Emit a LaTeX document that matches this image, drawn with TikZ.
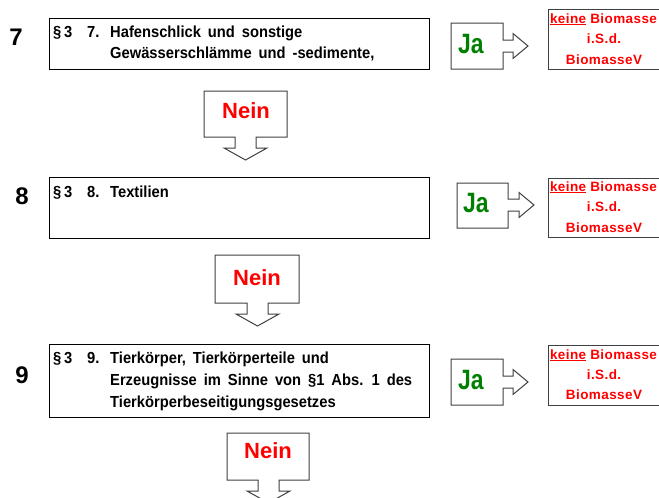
\documentclass[tikz,border=0pt]{standalone}
\usepackage{fontspec}
\setmainfont{Liberation Sans}
\newfontfamily\boxfont{Liberation Sans}[FakeStretch=0.92,WordSpace=1.7]
\newfontfamily\resfont{Liberation Sans}[LetterSpace=3]
\definecolor{jagreen}{RGB}{0,128,0}
\definecolor{nred}{RGB}{255,0,0}
\definecolor{callgray}{RGB}{64,64,64}
\tikzset{
  mainbox/.style={draw=black, line width=1.4pt, fill=white},
  callout/.style={draw=callgray, line width=1pt, fill=white},
  resbox/.style={draw=callgray, line width=1pt, fill=white},
  num/.style={font=\fontsize{24}{24}\selectfont\bfseries, inner sep=0pt, anchor=base},
  btxt/.style={font=\boxfont\fontsize{16}{21}\selectfont\bfseries, inner sep=0pt, anchor=base west},
  jatxt/.style={font=\fontsize{28}{28}\selectfont\bfseries, text=jagreen, inner sep=0pt, anchor=base west, xscale=0.82},
  neintxt/.style={font=\fontsize{22}{22}\selectfont\bfseries, text=nred, inner sep=0pt, anchor=base},
  restxt/.style={font=\resfont\fontsize{13.5}{13.5}\selectfont\bfseries, text=nred, inner sep=0pt, anchor=base},
}
% Ja callout: #1 name, (#2,#3) top-left, (#4,#5) bottom-right, #6 arrow centre y, #7 tip x
\newcommand\jacall[7]{%
  \path[callout] (#2,#3) -- (#4,#3) -- (#4,#6-6) -- (#7-15,#6-6) -- (#7-15,#6-12.5)
    -- (#7,#6) -- (#7-15,#6+12.5) -- (#7-15,#6+6) -- (#4,#6+6) -- (#4,#5) -- (#2,#5) -- cycle;
  \coordinate (#1) at (#7,#6);}
% Nein callout: #1 name, (#2,#3) top-left, (#4,#5) bottom-right, #6 arrow centre x
\newcommand\neincall[6]{%
  \path[callout] (#2,#3) -- (#4,#3) -- (#4,#5) -- (#6+10.5,#5) -- (#6+10.5,#5+11)
    -- (#6+21.5,#5+11) -- (#6,#5+23) -- (#6-21.5,#5+11) -- (#6-10.5,#5+11)
    -- (#6-10.5,#5) -- (#2,#5) -- cycle;
  \coordinate (#1) at (#6,#5+23);}
\newcommand\resultbox[5]{% #1 name, #2 top y, #3 bottom y, #4 first baseline, #5 leading
  \node[resbox, anchor=north west, minimum width=114pt, minimum height={(#3-#2)*1pt}, inner sep=0pt] (#1) at (548,#2) {};
  \node[restxt] (#1a) at (603.5,#4) {\underline{keine}\ Biomasse};
  \node[restxt] (#1b) at (604,#4+#5) {i.S.d.};
  \node[restxt] (#1c) at (604,#4+#5+#5) {BiomasseV};}
\begin{document}
\begin{tikzpicture}[x=1pt,y=-1pt]
\useasboundingbox[fill=white] (0,0) rectangle (659,498);

% ---------- row 7 ----------
\node[num] (n7) at (16,45) {7};
\node[mainbox, anchor=north west, minimum width=380pt, minimum height=51pt, inner sep=0pt] (b7) at (49,18) {};
\node[btxt] (b7p) at (53,37) {§\,3};
\node[btxt] (b7n) at (87,37) {7.};
\node[btxt] (b7l1) at (110,37) {Hafenschlick und sonstige};
\node[btxt] (b7l2) at (110,58) {Gewässerschlämme und -sedimente,};
\jacall{j7}{451}{23}{503}{69}{46}{528}
\node[jatxt] (j7t) at (458,53) {Ja};
\resultbox{r7}{9}{69}{23}{20.5}
\neincall{nn7}{204}{91}{287}{137}{245.5}
\node[neintxt] (nn7t) at (246,118) {Nein};

% ---------- row 8 ----------
\node[num] (n8) at (22,204) {8};
\node[mainbox, anchor=north west, minimum width=380pt, minimum height=61pt, inner sep=0pt] (b8) at (49,177) {};
\node[btxt] (b8p) at (53,197) {§\,3};
\node[btxt] (b8n) at (87,197) {8.};
\node[btxt] (b8l1) at (110,197) {Textilien};
\jacall{j8}{457}{183}{508}{228}{205}{534}
\node[jatxt] (j8t) at (463,212) {Ja};
\resultbox{r8}{178}{237}{191}{20.5}
\neincall{nn8}{215}{255}{299}{303}{257.5}
\node[neintxt] (nn8t) at (257,285) {Nein};

% ---------- row 9 ----------
\node[num] (n9) at (22,383) {9};
\node[mainbox, anchor=north west, minimum width=380pt, minimum height=73pt, inner sep=0pt] (b9) at (49,344) {};
\node[btxt] (b9p) at (53,363) {§\,3};
\node[btxt] (b9n) at (87,363) {9.};
\node[btxt] (b9l1) at (110,363) {Tierkörper, Tierkörperteile und};
\node[btxt] (b9l2) at (110,385) {Erzeugnisse im Sinne von §1 Abs. 1 des};
\node[btxt] (b9l3) at (110,407) {Tierkörperbeseitigungsgesetzes};
\jacall{j9}{451}{359}{503}{405}{382}{528}
\node[jatxt] (j9t) at (458,389) {Ja};
\resultbox{r9}{345}{405}{359}{20}
\neincall{nn9}{227}{433}{309}{480}{268.5}
\node[neintxt] (nn9t) at (268,458) {Nein};
\end{tikzpicture}
\end{document}
